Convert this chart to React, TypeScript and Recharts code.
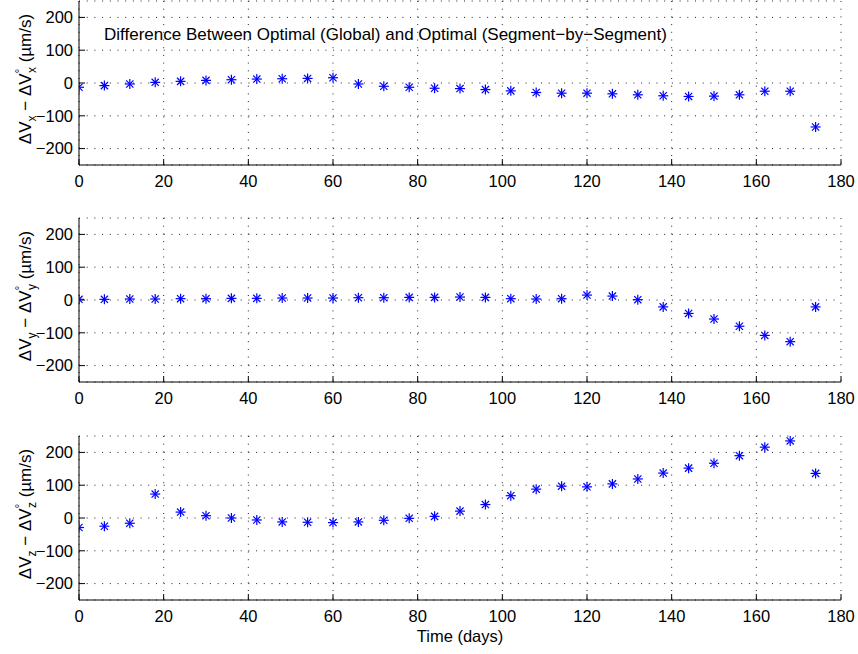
import { ScatterChart, Scatter, XAxis, YAxis, CartesianGrid } from "recharts";

// sample times (days) shared by all three panels
const days = [0, 6, 12, 18, 24, 30, 36, 42, 48, 54, 60, 66, 72, 78, 84, 90, 96, 102, 108, 114, 120, 126, 132, 138, 144, 150, 156, 162, 168, 174];

// delta-V differences, global optimum minus segment-by-segment optimum (µm/s)
const dvx = [-13, -8, -3, 2, 5, 8, 10, 12, 13, 14, 16, -3, -10, -13, -16, -17, -20, -24, -29, -31, -31, -33, -36, -39, -41, -40, -36, -25, -25, -134];
const dvy = [2, 2, 3, 3, 4, 4, 5, 5, 6, 6, 6, 7, 7, 8, 8, 9, 8, 4, 3, 4, 15, 12, 1, -21, -41, -58, -80, -108, -127, -21];
const dvz = [-29, -25, -16, 73, 18, 7, 0, -6, -12, -13, -14, -12, -7, -1, 5, 21, 41, 68, 88, 97, 95, 104, 119, 137, 152, 167, 190, 216, 235, 136];

const xTicks = [0, 20, 40, 60, 80, 100, 120, 140, 160, 180];
const yTicks = [-200, -100, 0, 100, 200];

const TITLE = "Difference Between Optimal (Global) and Optimal (Segment\u2212by\u2212Segment)";
const FONT = "'Liberation Sans', Arial, Helvetica, sans-serif";
const BLUE = "#0000ff";

const fmtY = (v: number) => (v < 0 ? "\u2212" + Math.abs(v) : String(v));

// matlab-style '*' marker
const Star = (props: any) => {
  const { cx, cy } = props;
  if (cx == null || cy == null) return null;
  const r = 5;
  const d = 3.6;
  return (
    <g stroke={BLUE} strokeWidth={1.2}>
      <line x1={cx - r} y1={cy} x2={cx + r} y2={cy} />
      <line x1={cx} y1={cy - r} x2={cx} y2={cy + r} />
      <line x1={cx - d} y1={cy - d} x2={cx + d} y2={cy + d} />
      <line x1={cx - d} y1={cy + d} x2={cx + d} y2={cy - d} />
    </g>
  );
};

// rotated "ΔV_a − ΔV°_a (µm/s)" label
const YLabel = ({ viewBox, comp }: any) => {
  const vb = viewBox || { x: 0, y: 0, width: 79, height: 164 };
  const cx = 31;
  const cy = vb.y + vb.height / 2 - 4;
  return (
    <text
      x={cx}
      y={cy}
      transform={`rotate(-90 ${cx} ${cy})`}
      textAnchor="middle"
      fontFamily={FONT}
      fontSize={17}
      fill="#000"
    >
      <tspan>ΔV</tspan>
      <tspan fontSize={12} dy={5}>{comp}</tspan>
      <tspan dy={-5}> − ΔV</tspan>
      <tspan fontSize={12} dy={-7}>°</tspan>
      <tspan fontSize={12} dx={-4.5} dy={12}>{comp}</tspan>
      <tspan dy={-5}> (µm/s)</tspan>
    </text>
  );
};

type PanelProps = {
  values: number[];
  comp: string;
  top: number;
  height: number;
  title?: boolean;
  xLabel?: boolean;
};

function Panel({ values, comp, top, height, title, xLabel }: PanelProps) {
  const points = days.map((d, i) => ({ day: d, dv: values[i] }));
  const tickStyle = { fill: "#000", fontSize: 16.5, fontFamily: FONT };

  return (
    <div style={{ position: "absolute", left: 0, top }}>
      <ScatterChart width={858} height={height} margin={{ top: 1, right: 17, bottom: 0, left: 0 }}>
        <CartesianGrid stroke="#222" strokeDasharray="1 6.7" />
        <XAxis
          dataKey="day"
          type="number"
          domain={[0, 180]}
          ticks={xTicks}
          interval={0}
          allowDataOverflow
          height={height - 165}
          tick={tickStyle}
          tickSize={-6}
          tickMargin={16}
          stroke="#000"
          label={
            xLabel
              ? { value: "Time (days)", position: "insideBottom", offset: 12, fill: "#000", fontSize: 16.5, fontFamily: FONT }
              : undefined
          }
        />
        <XAxis
          xAxisId="top"
          orientation="top"
          type="number"
          domain={[0, 180]}
          ticks={xTicks}
          interval={0}
          allowDataOverflow
          height={0}
          tick={false}
          tickSize={-6}
          stroke="#000"
        />
        <YAxis
          dataKey="dv"
          type="number"
          domain={[-250, 250]}
          ticks={yTicks}
          interval={0}
          allowDataOverflow
          width={79}
          tick={tickStyle}
          tickFormatter={fmtY}
          tickSize={-6}
          tickMargin={12}
          stroke="#000"
          label={{ content: (p: any) => <YLabel viewBox={p.viewBox} comp={comp} /> }}
        />
        <YAxis
          yAxisId="right"
          orientation="right"
          type="number"
          domain={[-250, 250]}
          ticks={yTicks}
          interval={0}
          allowDataOverflow
          width={0}
          tick={false}
          tickSize={-6}
          stroke="#000"
        />
        <Scatter data={points} shape={Star} isAnimationActive={false} />
        {title && (
          <text x={104} y={40} fontFamily={FONT} fontSize={17} fill="#000">
            {TITLE}
          </text>
        )}
      </ScatterChart>
    </div>
  );
}

export default function App() {
  return (
    <div style={{ position: "absolute", left: 0, top: 0, width: 858, height: 654, background: "#fff" }}>
      <Panel values={dvx} comp="x" top={0} height={200} title />
      <Panel values={dvy} comp="y" top={217} height={200} />
      <Panel values={dvz} comp="z" top={435} height={219} xLabel />
    </div>
  );
}
